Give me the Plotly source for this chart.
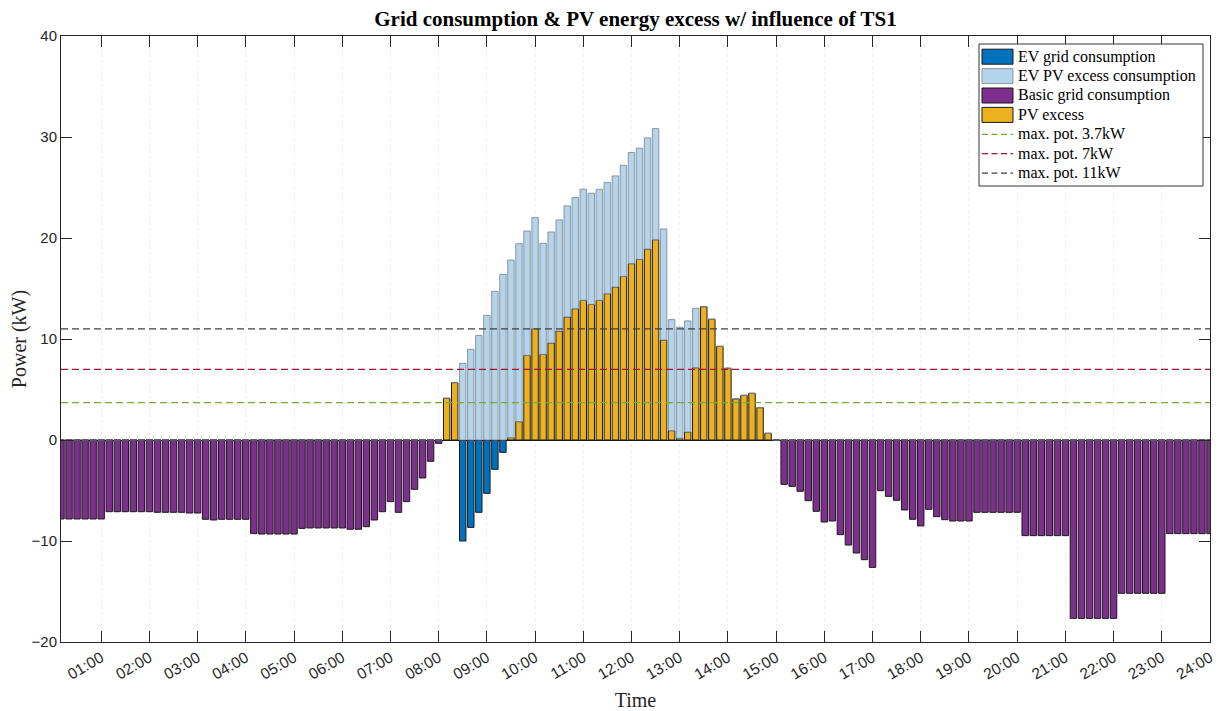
import plotly.graph_objects as go

# time of each 10-minute interval (hours), 144 intervals: 00:10 ... 24:00
time_h = [k / 6 for k in range(1, 145)]

hour_ticks = list(range(1, 25))
hour_labels = ["%02d:00" % h for h in hour_ticks]

# Basic grid consumption (kW), one row per hour (6 x 10 min)
basic_grid = [
    -7.82, -7.82, -7.82, -7.82, -7.82, -7.82,
    -7.10, -7.10, -7.10, -7.10, -7.10, -7.10,
    -7.16, -7.16, -7.16, -7.16, -7.23, -7.23,
    -7.85, -7.92, -7.85, -7.85, -7.85, -7.85,
    -9.27, -9.31, -9.31, -9.31, -9.31, -9.31,
    -8.75, -8.71, -8.71, -8.71, -8.71, -8.71,
    -8.84, -8.84, -8.58, -7.92, -7.10, -6.10,
    -7.16, -6.10, -4.88, -3.76, -2.11, -0.33,
    0, 0, 0, 0, 0, 0,
    0, 0, 0, 0, 0, 0,
    0, 0, 0, 0, 0, 0,
    0, 0, 0, 0, 0, 0,
    0, 0, 0, 0, 0, 0,
    0, 0, 0, 0, 0, 0,
    0, 0, 0, 0, 0, 0,
    -4.39, -4.59, -5.08, -6.01, -7.06, -8.12,
    -8.02, -9.37, -10.40, -11.19, -11.85, -12.61,
    -5.02, -5.58, -5.97, -6.93, -7.85, -8.51,
    -6.86, -7.59, -7.89, -8.02, -8.02, -8.02,
    -7.16, -7.16, -7.16, -7.16, -7.16, -7.16,
    -9.47, -9.47, -9.47, -9.47, -9.47, -9.47,
    -17.66, -17.66, -17.66, -17.66, -17.66, -17.66,
    -15.18, -15.18, -15.18, -15.18, -15.18, -15.18,
    -9.27, -9.27, -9.27, -9.27, -9.27, -9.27,
]

# EV grid consumption (kW)
ev_grid = [
    0, 0, 0, 0, 0, 0,
    0, 0, 0, 0, 0, 0,
    0, 0, 0, 0, 0, 0,
    0, 0, 0, 0, 0, 0,
    0, 0, 0, 0, 0, 0,
    0, 0, 0, 0, 0, 0,
    0, 0, 0, 0, 0, 0,
    0, 0, 0, 0, 0, 0,
    0, 0, -10.00, -8.65, -7.16, -5.28,
    -2.90, -1.22, 0, 0, 0, 0,
    0, 0, 0, 0, 0, 0,
    0, 0, 0, 0, 0, 0,
    0, 0, 0, 0, 0, 0,
    0, 0, 0, 0, 0, 0,
    0, 0, 0, 0, 0, 0,
    0, 0, 0, 0, 0, 0,
    0, 0, 0, 0, 0, 0,
    0, 0, 0, 0, 0, 0,
    0, 0, 0, 0, 0, 0,
    0, 0, 0, 0, 0, 0,
    0, 0, 0, 0, 0, 0,
    0, 0, 0, 0, 0, 0,
    0, 0, 0, 0, 0, 0,
    0, 0, 0, 0, 0, 0,
]

# PV excess (kW)
pv_excess = [
    0, 0, 0, 0, 0, 0,
    0, 0, 0, 0, 0, 0,
    0, 0, 0, 0, 0, 0,
    0, 0, 0, 0, 0, 0,
    0, 0, 0, 0, 0, 0,
    0, 0, 0, 0, 0, 0,
    0, 0, 0, 0, 0, 0,
    0, 0, 0, 0, 0, 0,
    4.13, 5.68, 0, 0, 0, 0,
    0, 0, 0.23, 1.82, 8.38, 11.02,
    8.48, 9.60, 10.79, 12.18, 13.00, 13.83,
    13.43, 13.83, 14.49, 15.15, 16.20, 17.46,
    17.89, 18.91, 19.83, 9.90, 0.92, 0.17,
    0.79, 7.16, 13.20, 11.95, 9.27, 7.10,
    4.06, 4.42, 4.62, 3.20, 0.66, 0,
    0, 0, 0, 0, 0, 0,
    0, 0, 0, 0, 0, 0,
    0, 0, 0, 0, 0, 0,
    0, 0, 0, 0, 0, 0,
    0, 0, 0, 0, 0, 0,
    0, 0, 0, 0, 0, 0,
    0, 0, 0, 0, 0, 0,
    0, 0, 0, 0, 0, 0,
    0, 0, 0, 0, 0, 0,
]

# EV PV excess consumption (kW), stacked on PV excess
ev_pv = [
    0, 0, 0, 0, 0, 0,
    0, 0, 0, 0, 0, 0,
    0, 0, 0, 0, 0, 0,
    0, 0, 0, 0, 0, 0,
    0, 0, 0, 0, 0, 0,
    0, 0, 0, 0, 0, 0,
    0, 0, 0, 0, 0, 0,
    0, 0, 0, 0, 0, 0,
    0, 0, 7.59, 8.98, 10.36, 12.34,
    14.72, 16.40, 17.59, 17.62, 12.31, 11.0,
    11.0, 11.0, 11.0, 11.0, 11.0, 11.0,
    11.0, 11.0, 11.0, 11.0, 11.0, 11.0,
    11.0, 11.0, 11.0, 11.0, 11.0, 11.0,
    11.0, 5.88, 0, 0, 0, 0,
    0, 0, 0, 0, 0, 0,
    0, 0, 0, 0, 0, 0,
    0, 0, 0, 0, 0, 0,
    0, 0, 0, 0, 0, 0,
    0, 0, 0, 0, 0, 0,
    0, 0, 0, 0, 0, 0,
    0, 0, 0, 0, 0, 0,
    0, 0, 0, 0, 0, 0,
    0, 0, 0, 0, 0, 0,
    0, 0, 0, 0, 0, 0,
]

pot_levels = [3.7, 7, 11]
pot_names = ["max. pot. 3.7kW", "max. pot. 7kW", "max. pot. 11kW"]
pot_colors = ["#77AC30", "#A2142F", "#404040"]

SERIF = "Liberation Serif, Times New Roman, serif"
SANS = "Liberation Sans, Arial, sans-serif"
AX = "#262626"
DASH = "7px,4px"

# figure geometry (the page body adds an 8 px offset)
W, H = 1216, 703
ML, MR, MT, MB = 53, 14, 28, 69
PW, PH = W - ML - MR, H - MT - MB

def px_x(x):  # figure pixel -> paper
    return (x - ML) / PW

def px_y(y):
    return 1 - (y - MT) / PH

bar_styles = {
    "EV grid consumption": ("#0072BD", "#1a1a1a"),
    "EV PV excess consumption": ("#B4D4EC", "rgba(120,130,140,0.8)"),
    "Basic grid consumption": ("#7E2F8E", "#1a1a1a"),
    "PV excess": ("#EDB120", "#1a1a1a"),
}

fig = go.Figure()

def add_bar(y, name):
    fill, edge = bar_styles[name]
    fig.add_trace(go.Bar(x=time_h, y=y, name=name, showlegend=False,
                         marker=dict(color=fill, line=dict(color=edge, width=1))))

add_bar(basic_grid, "Basic grid consumption")
add_bar(ev_grid, "EV grid consumption")
add_bar(pv_excess, "PV excess")
add_bar(ev_pv, "EV PV excess consumption")

for lvl, nm, col in zip(pot_levels, pot_names, pot_colors):
    fig.add_trace(go.Scatter(x=[time_h[0], time_h[-1]], y=[lvl, lvl], mode="lines",
                             name=nm, showlegend=False,
                             line=dict(color=col, width=1.2, dash=DASH)))

# ---- legend box (drawn like the original figure legend) ----
shapes = []
annotations = []
LX0, LX1, LY0, LY1 = 971, 1195, 36, 178   # figure px
shapes.append(dict(type="rect", xref="paper", yref="paper",
                   x0=px_x(LX0), x1=px_x(LX1), y0=px_y(LY1), y1=px_y(LY0),
                   fillcolor="white", line=dict(color="#333333", width=1), layer="above"))
legend_entries = [
    ("bar", "EV grid consumption", None),
    ("bar", "EV PV excess consumption", None),
    ("bar", "Basic grid consumption", None),
    ("bar", "PV excess", None),
    ("line", pot_names[0], pot_colors[0]),
    ("line", pot_names[1], pot_colors[1]),
    ("line", pot_names[2], pot_colors[2]),
]
row0, row_step = 48.7, 19.4
sx0, sx1 = 974, 1005
for i, (kind, nm, col) in enumerate(legend_entries):
    cy = row0 + i * row_step
    if kind == "bar":
        fill, edge = bar_styles[nm]
        shapes.append(dict(type="rect", xref="paper", yref="paper",
                           x0=px_x(sx0), x1=px_x(sx1), y0=px_y(cy + 7.5), y1=px_y(cy - 7.5),
                           fillcolor=fill, line=dict(color=edge, width=1), layer="above"))
    else:
        shapes.append(dict(type="line", xref="paper", yref="paper",
                           x0=px_x(sx0), x1=px_x(sx1), y0=px_y(cy), y1=px_y(cy),
                           line=dict(color=col, width=1.2, dash="6px,3.5px"), layer="above"))
    annotations.append(dict(text=nm, xref="paper", yref="paper", x=px_x(1008), y=px_y(cy),
                            xanchor="left", yanchor="middle", showarrow=False,
                            font=dict(family=SERIF, size=16, color="black")))

fig.update_layout(
    width=W, height=H,
    margin=dict(l=ML, r=MR, t=MT, b=MB, autoexpand=False),
    paper_bgcolor="white", plot_bgcolor="white",
    barmode="relative", bargap=0.2,
    title=dict(text="<b>Grid consumption & PV energy excess w/ influence of TS1</b>",
               font=dict(family=SERIF, size=21, color="black"),
               x=0.5, xref="paper", xanchor="center",
               y=1 - 11 / H, yref="container", yanchor="middle"),
    showlegend=False,
    shapes=shapes,
    annotations=annotations,
)

fig.update_xaxes(range=[time_h[0], time_h[-1]], tickvals=hour_ticks, ticktext=hour_labels,
                 tickangle=-30, ticks="inside", ticklen=11, tickcolor=AX, tickwidth=1,
                 showline=True, linecolor=AX, linewidth=1, mirror="ticks",
                 showgrid=True, gridcolor="#ececec", griddash="dot", gridwidth=1,
                 zeroline=False, automargin=False,
                 tickfont=dict(family=SANS, size=15.5, color=AX),
                 title=dict(text="Time", font=dict(family=SERIF, size=20, color=AX), standoff=13))

fig.update_yaxes(range=[-20, 40], dtick=10, tick0=0,
                 ticks="inside", ticklen=11, tickcolor=AX, tickwidth=1,
                 showline=True, linecolor=AX, linewidth=1, mirror="ticks",
                 showgrid=False, zeroline=True, zerolinecolor="#1a1a1a", zerolinewidth=1,
                 automargin=False,
                 tickfont=dict(family=SANS, size=15, color=AX),
                 title=dict(text="Power (kW)", font=dict(family=SERIF, size=20, color=AX), standoff=4))

fig.write_html("out.html")
